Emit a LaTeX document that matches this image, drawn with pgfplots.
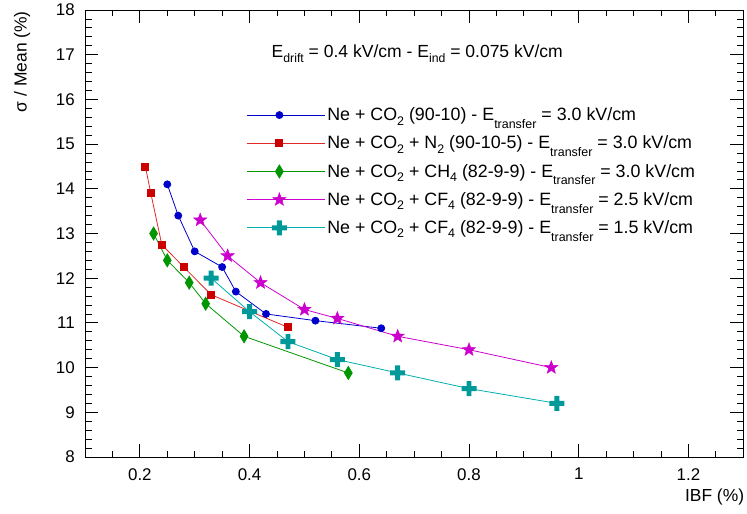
\documentclass[border=0pt]{standalone}
\usepackage{pgfplots}
\pgfplotsset{compat=1.18}
\usepackage{fontspec}
\setmainfont{Liberation Sans}
\definecolor{cblue}{RGB}{0,0,204}
\definecolor{cred}{RGB}{204,0,0}
\definecolor{cgreen}{RGB}{0,150,0}
\definecolor{cmag}{RGB}{204,0,204}
\definecolor{cteal}{RGB}{0,153,153}
\definecolor{cteall}{RGB}{0,175,175}
\definecolor{credl}{RGB}{225,40,40}
\newcommand{\sub}[1]{\raisebox{-4.3bp}{\fontsize{12.5}{12.5}\selectfont #1}}
\newcommand{\subE}[1]{\raisebox{-7.7bp}{\fontsize{12.5}{12.5}\selectfont #1}}
\newcommand{\subD}[1]{\raisebox{-4.5bp}{\fontsize{12.3}{12.3}\selectfont #1}}
\pgfdeclareplotmark{fstar}{%
  \pgfpathmoveto{\pgfqpointpolar{90}{\pgfplotmarksize}}%
  \pgfpathlineto{\pgfqpointpolar{126}{.42\pgfplotmarksize}}%
  \pgfpathlineto{\pgfqpointpolar{162}{\pgfplotmarksize}}%
  \pgfpathlineto{\pgfqpointpolar{198}{.42\pgfplotmarksize}}%
  \pgfpathlineto{\pgfqpointpolar{234}{\pgfplotmarksize}}%
  \pgfpathlineto{\pgfqpointpolar{270}{.42\pgfplotmarksize}}%
  \pgfpathlineto{\pgfqpointpolar{306}{\pgfplotmarksize}}%
  \pgfpathlineto{\pgfqpointpolar{342}{.42\pgfplotmarksize}}%
  \pgfpathlineto{\pgfqpointpolar{18}{\pgfplotmarksize}}%
  \pgfpathlineto{\pgfqpointpolar{54}{.42\pgfplotmarksize}}%
  \pgfpathclose\pgfusepathqfillstroke}
\pgfdeclareplotmark{fcross}{%
  \pgfpathmoveto{\pgfqpoint{-.33\pgfplotmarksize}{\pgfplotmarksize}}%
  \pgfpathlineto{\pgfqpoint{.33\pgfplotmarksize}{\pgfplotmarksize}}%
  \pgfpathlineto{\pgfqpoint{.33\pgfplotmarksize}{.33\pgfplotmarksize}}%
  \pgfpathlineto{\pgfqpoint{\pgfplotmarksize}{.33\pgfplotmarksize}}%
  \pgfpathlineto{\pgfqpoint{\pgfplotmarksize}{-.33\pgfplotmarksize}}%
  \pgfpathlineto{\pgfqpoint{.33\pgfplotmarksize}{-.33\pgfplotmarksize}}%
  \pgfpathlineto{\pgfqpoint{.33\pgfplotmarksize}{-\pgfplotmarksize}}%
  \pgfpathlineto{\pgfqpoint{-.33\pgfplotmarksize}{-\pgfplotmarksize}}%
  \pgfpathlineto{\pgfqpoint{-.33\pgfplotmarksize}{-.33\pgfplotmarksize}}%
  \pgfpathlineto{\pgfqpoint{-\pgfplotmarksize}{-.33\pgfplotmarksize}}%
  \pgfpathlineto{\pgfqpoint{-\pgfplotmarksize}{.33\pgfplotmarksize}}%
  \pgfpathlineto{\pgfqpoint{-.33\pgfplotmarksize}{.33\pgfplotmarksize}}%
  \pgfpathclose\pgfusepathqfill}
\begin{document}
\begin{tikzpicture}
\begin{axis}[
  scale only axis,
  width=658.3bp, height=447bp,
  xmin=0.1, xmax=1.3, ymin=8, ymax=18,
  xtick={0.2,0.4,0.6,0.8,1,1.2},
  xticklabels={0.2,0.4,0.6,0.8,1,1.2},
  minor xtick={0.15,0.25,0.3,0.35,0.45,0.5,0.55,0.65,0.7,0.75,0.85,0.9,0.95,1.05,1.1,1.15,1.25},
  ytick={8,9,...,18},
  minor y tick num=4,
  tick align=inside,
  xtick pos=both, ytick pos=both,
  major tick length=13bp, minor tick length=6.5bp,
  every tick/.style={black, line width=0.8bp},
  axis line style={line width=0.9bp},
  /pgf/number format/assume math mode=true,
  tick label style={font=\fontsize{17}{17}\selectfont},
  yticklabel style={inner sep=0pt, anchor=east, xshift=-10bp},
  xticklabel style={inner sep=0pt, anchor=north, yshift=-11bp},
  legend style={draw=none, fill=none, at={(rel axis cs:0.245,0.786)}, anchor=north west,
     font=\fontsize{17.9}{17.9}\selectfont, row sep=9.8bp, inner sep=0pt,
     /tikz/every even column/.style={column sep=0pt}},
  legend cell align=left,
  legend image code/.code={%
     \draw[#1, mark repeat=2, mark phase=2] plot coordinates {(0bp,0bp) (32.5bp,0bp) (65bp,0bp)};
     \path (65bp,0bp) -- (78bp,0bp);},
  clip=false,
]
\addplot[cblue, line width=0.8bp, mark=*, mark size=3.5bp, mark options={solid, fill=cblue, draw=cblue}] coordinates {
 (0.25,14.1) (0.27,13.4) (0.30,12.6) (0.35,12.25) (0.375,11.7) (0.43,11.2) (0.52,11.05) (0.64,10.88)};
\addlegendentry{Ne + CO\sub{2} (90-10) - E\subE{transfer} = 3.0 kV/cm}
\addplot[credl, line width=0.8bp, mark=square*, mark size=3.5bp, mark options={solid, fill=cred, draw=cred}] coordinates {
 (0.21,14.5) (0.22,13.9) (0.24,12.75) (0.28,12.25) (0.33,11.63) (0.47,10.9)};
\addlegendentry{Ne + CO\sub{2} + N\sub{2} (90-10-5) - E\subE{transfer} = 3.0 kV/cm}
\addplot[cgreen, line width=0.8bp, mark=diamond*, mark size=6.5bp, mark options={solid, fill=cgreen, draw=cgreen, xscale=0.8}] coordinates {
 (0.225,13.0) (0.25,12.4) (0.29,11.9) (0.32,11.43) (0.39,10.7) (0.58,9.88)};
\addlegendentry{Ne + CO\sub{2} + CH\sub{4} (82-9-9) - E\subE{transfer} = 3.0 kV/cm}
\addplot[cmag, line width=0.8bp, mark=fstar, mark size=7bp, mark options={solid, fill=cmag, draw=cmag, line width=0.4bp}] coordinates {
 (0.31,13.3) (0.36,12.5) (0.42,11.9) (0.50,11.3) (0.56,11.1) (0.67,10.7) (0.80,10.4) (0.95,10.0)};
\addlegendentry{Ne + CO\sub{2} + CF\sub{4} (82-9-9) - E\subE{transfer} = 2.5 kV/cm}
\addplot[cteall, line width=0.8bp, mark=fcross, mark size=7.5bp, mark options={solid, fill=cteal, draw=cteal}] coordinates {
 (0.33,12.0) (0.40,11.25) (0.47,10.58) (0.56,10.18) (0.67,9.88) (0.80,9.53) (0.96,9.2)};
\addlegendentry{Ne + CO\sub{2} + CF\sub{4} (82-9-9) - E\subE{transfer} = 1.5 kV/cm}
\node[anchor=base west, inner sep=0pt, font=\fontsize{17.6}{17.6}\selectfont] at (axis cs:0.44,16.93)
  {E\subD{drift} = 0.4 kV/cm - E\subD{ind} = 0.075 kV/cm};
\end{axis}
\node[rotate=90, anchor=east, inner sep=0pt, font=\fontsize{17.5}{17.5}\selectfont]
  at ([xshift=-63bp,yshift=-1bp]current axis.north west) {σ / Mean (\%)};
\node[anchor=east, inner sep=0pt, font=\fontsize{17.5}{17.5}\selectfont]
  at ([xshift=1bp,yshift=-40bp]current axis.south east) {IBF (\%)};
\path ([xshift=-85bp,yshift=-57bp]current axis.south west) rectangle ++(747bp,514bp);
\end{tikzpicture}
\end{document}
